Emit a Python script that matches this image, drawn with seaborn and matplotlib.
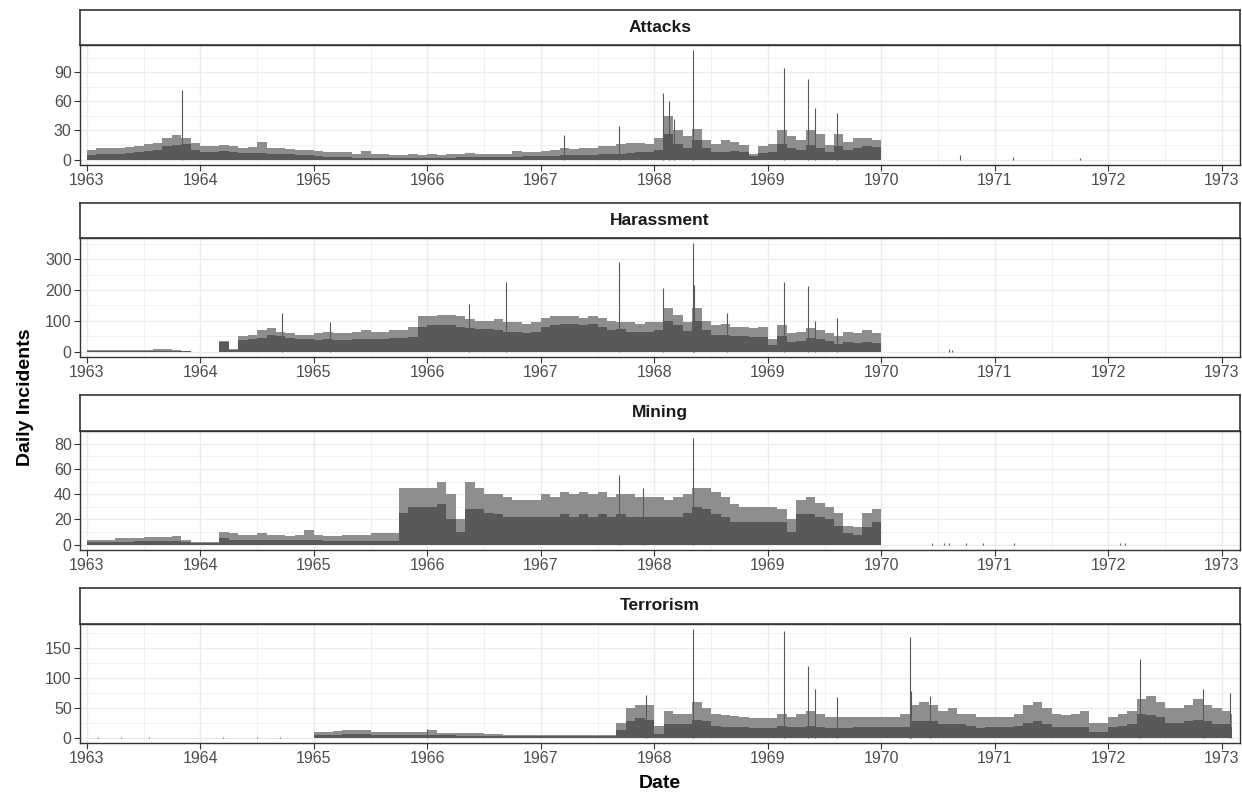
import numpy as np
import pandas as pd
import matplotlib
matplotlib.use("Agg")
import matplotlib.pyplot as plt
import seaborn as sns

# ---------------- data ----------------
categories = ["Attacks", "Harassment", "Mining", "Terrorism"]
start_year = 1963
years = list(range(1963, 1974))
series_end = {"Attacks": 1970.0, "Harassment": 1970.0, "Mining": 1970.0,
              "Terrorism": 1973.09}

# monthly typical daily level (dark mass), Jan 1963 onward
attacks_level = [5, 6, 6, 6, 7, 8, 9, 10, 14, 15, 16, 10,
                 8, 8, 9, 8, 7, 7, 7, 6, 6, 6, 5, 5,
                 4, 3, 3, 3, 2, 2, 2, 2, 2, 2, 2, 2,
                 2, 2, 2, 3, 3, 3, 3, 3, 3, 3, 4, 4,
                 4, 4, 5, 5, 5, 5, 6, 6, 6, 7, 8, 8,
                 10, 26, 16, 12, 20, 12, 8, 8, 9, 8, 4, 7,
                 8, 16, 12, 10, 15, 12, 8, 14, 10, 12, 14, 13]
attacks_peak = [10, 12, 12, 12, 13, 14, 16, 17, 22, 25, 22, 17,
                14, 14, 15, 14, 12, 13, 18, 12, 12, 11, 10, 10,
                9, 8, 8, 8, 6, 9, 6, 6, 5, 5, 6, 5,
                6, 5, 6, 6, 7, 6, 6, 6, 6, 9, 8, 8,
                9, 10, 12, 11, 12, 12, 14, 14, 16, 17, 17, 16,
                22, 45, 30, 24, 32, 20, 16, 20, 18, 15, 6, 14,
                16, 30, 24, 20, 30, 26, 15, 26, 18, 22, 22, 20]
attacks_spike_dates = [1963.84, 1967.20, 1967.69, 1968.08, 1968.13, 1968.17, 1968.34,
                       1969.14, 1969.35, 1969.42, 1969.61, 1970.69, 1971.16, 1971.75]
attacks_spike_values = [72, 25, 35, 69, 60, 42, 112.6, 94, 83, 53, 48, 5, 3, 2]

harassment_level = [2, 2, 2, 2, 2, 2, 3, 3, 3, 3, 1, 0,
                    0, 0, 30, 5, 38, 40, 45, 55, 50, 45, 40, 40,
                    38, 40, 38, 38, 40, 40, 42, 42, 45, 45, 48, 80,
                    85, 85, 85, 80, 75, 72, 72, 70, 65, 62, 60, 62,
                    80, 85, 88, 88, 85, 88, 80, 70, 72, 65, 62, 65,
                    70, 100, 85, 68, 100, 70, 55, 55, 52, 50, 48, 48,
                    22, 50, 32, 35, 45, 40, 35, 25, 30, 28, 30, 28]
harassment_peak = [4, 4, 5, 4, 5, 5, 6, 7, 7, 6, 2, 0,
                   0, 0, 35, 10, 50, 55, 70, 75, 65, 60, 55, 55,
                   60, 65, 60, 60, 65, 70, 65, 65, 70, 70, 80, 115,
                   115, 120, 120, 115, 105, 100, 100, 105, 95, 95, 90, 95,
                   110, 115, 115, 115, 110, 115, 110, 100, 95, 95, 90, 95,
                   95, 140, 120, 95, 140, 100, 85, 90, 80, 80, 75, 80,
                   40, 85, 60, 65, 75, 70, 60, 50, 65, 60, 70, 60]
harassment_spike_dates = [1964.72, 1965.14, 1966.37, 1966.69, 1967.69, 1968.08,
                          1968.34, 1968.35, 1968.64, 1969.14, 1969.35, 1969.42,
                          1969.61, 1970.60, 1970.62]
harassment_spike_values = [125, 95, 155, 225, 290, 205, 351, 215, 125, 225, 212, 100,
                           110, 8, 6]

mining_level = [2, 2, 2, 2, 2, 3, 3, 3, 3, 3, 2, 1,
                1, 1, 5, 4, 4, 4, 4, 4, 4, 4, 4, 4,
                4, 3, 3, 3, 3, 3, 3, 3, 3, 25, 30, 30,
                30, 32, 20, 10, 28, 28, 25, 24, 22, 22, 22, 22,
                22, 22, 24, 22, 24, 22, 24, 22, 24, 22, 22, 22,
                22, 22, 22, 25, 30, 28, 24, 22, 18, 18, 18, 18,
                18, 18, 10, 24, 24, 22, 20, 15, 9, 8, 14, 18]
mining_peak = [4, 4, 4, 5, 5, 5, 6, 6, 6, 7, 4, 2,
               2, 2, 10, 9, 8, 8, 9, 8, 8, 7, 8, 12,
               8, 7, 7, 8, 8, 8, 9, 9, 9, 45, 45, 45,
               45, 50, 40, 20, 50, 45, 40, 40, 38, 35, 35, 35,
               40, 38, 42, 40, 42, 40, 42, 38, 40, 40, 38, 38,
               38, 35, 38, 40, 45, 45, 42, 38, 32, 30, 30, 30,
               30, 28, 20, 35, 38, 33, 30, 25, 15, 14, 25, 28]
mining_spike_dates = [1967.69, 1967.90, 1968.34, 1970.45, 1970.55, 1970.60,
                      1970.75, 1970.90, 1971.17, 1972.10, 1972.15]
mining_spike_values = [55, 45, 84.5, 1, 1.5, 1.5, 1, 1, 1.5, 1, 1]

terrorism_level = [0, 0, 0, 0, 0, 0, 0, 0, 0, 0, 0, 0,
                   0, 0, 0, 0, 0, 0, 0, 0, 0, 0, 0, 0,
                   5, 5, 5, 6, 6, 6, 5, 5, 5, 5, 5, 5,
                   5, 4, 4, 3, 3, 3, 3, 3, 2, 2, 2, 2,
                   2, 2, 2, 2, 2, 2, 2, 2, 12, 28, 32, 30,
                   6, 22, 22, 22, 30, 28, 20, 18, 18, 18, 16, 16,
                   16, 20, 18, 18, 20, 18, 16, 16, 16, 18, 18, 18,
                   18, 18, 18, 28, 28, 28, 22, 22, 22, 20, 16, 18,
                   18, 18, 20, 25, 28, 22, 18, 18, 18, 18, 10, 10,
                   18, 20, 22, 40, 38, 35, 25, 25, 28, 30, 28, 22,
                   22, 18]
terrorism_peak = [0, 0, 0, 0, 0, 0, 0, 0, 0, 0, 0, 0,
                  0, 0, 0, 0, 0, 0, 0, 0, 0, 0, 0, 0,
                  10, 10, 11, 12, 12, 12, 10, 10, 10, 10, 10, 10,
                  12, 8, 8, 7, 7, 7, 6, 6, 5, 5, 5, 5,
                  4, 4, 4, 4, 4, 4, 4, 4, 25, 50, 55, 55,
                  20, 45, 40, 40, 60, 50, 40, 38, 36, 35, 32, 32,
                  32, 40, 35, 40, 45, 40, 35, 34, 35, 35, 35, 35,
                  35, 35, 40, 55, 60, 55, 45, 50, 40, 40, 35, 35,
                  35, 35, 40, 55, 60, 50, 40, 38, 40, 45, 25, 25,
                  35, 40, 45, 65, 70, 60, 50, 50, 55, 65, 55, 50,
                  45, 40]
terrorism_spike_dates = [1963.10, 1963.30, 1963.55, 1964.20, 1964.50, 1964.70,
                         1966.00, 1967.93, 1968.34, 1969.14, 1969.35, 1969.42,
                         1969.61, 1970.25, 1970.26, 1970.43, 1972.28, 1972.83, 1973.07]
terrorism_spike_values = [1, 1, 1, 1, 1, 1.5, 15, 72, 181, 178, 120, 82, 68, 168, 78,
                          70, 132, 82, 75]

levels = {"Attacks": attacks_level, "Harassment": harassment_level,
          "Mining": mining_level, "Terrorism": terrorism_level}
peaks = {"Attacks": attacks_peak, "Harassment": harassment_peak,
         "Mining": mining_peak, "Terrorism": terrorism_peak}
spikes = {"Attacks": (attacks_spike_dates, attacks_spike_values),
          "Harassment": (harassment_spike_dates, harassment_spike_values),
          "Mining": (mining_spike_dates, mining_spike_values),
          "Terrorism": (terrorism_spike_dates, terrorism_spike_values)}

rows = []
for c in categories:
    for i, (lv, pk) in enumerate(zip(levels[c], peaks[c])):
        t = start_year + i / 12.0
        w = min(1 / 12.0, series_end[c] - t)
        rows.append({"type": c, "t": t, "w": w, "level": lv, "peak": pk})
df = pd.DataFrame(rows)

# ---------------- style ----------------
sns.set_theme(style="white")
plt.rcParams["font.family"] = ["Liberation Sans", "DejaVu Sans"]

DARK = "#595959"
FRINGE = "#8e8e8e"
GRID = "#ebebeb"
BORDER = "#333333"

g = sns.FacetGrid(df, row="type", row_order=categories, sharex=False, sharey=False,
                  height=2.0, aspect=6.2, despine=False)


def draw_bars(data, **kws):
    ax = plt.gca()
    ax.bar(data["t"], data["peak"], width=data["w"], align="edge", color=FRINGE,
           linewidth=0, zorder=2)
    ax.bar(data["t"], data["level"], width=data["w"], align="edge", color=DARK,
           linewidth=0, zorder=3)


g.map_dataframe(draw_bars)
g.set_titles("")
g.set_axis_labels("", "")

fig = g.figure
fig.set_size_inches(12.42, 7.94)
W, H = 1242.0, 794.0

layout = {  # strip top, axes top, axes bottom (pixels from top)
    "Attacks": (10, 45, 165),
    "Harassment": (203, 238, 357),
    "Mining": (395, 431, 550),
    "Terrorism": (588, 624, 743),
}
left_px, right_px = 80, 1240

yticks = {"Attacks": [0, 30, 60, 90], "Harassment": [0, 100, 200, 300],
          "Mining": [0, 20, 40, 60, 80], "Terrorism": [0, 50, 100, 150]}

for c in categories:
    ax = g.axes_dict[c]
    st, at, ab = layout[c]
    ax.set_position([left_px / W, 1 - ab / H, (right_px - left_px) / W, (ab - at) / H])

    sd, sv = spikes[c]
    ax.vlines(sd, 0, sv, color=DARK, linewidth=0.8, zorder=4)

    mx = max(max(peaks[c]), max(sv))
    ax.set_ylim(-0.05 * mx, 1.05 * mx)
    ax.set_xlim(1962.94, 1973.16)

    ax.set_xticks(years)
    ax.set_xticklabels([str(y) for y in years])
    ax.set_xticks([y + 0.5 for y in years[:-1]], minor=True)
    yt = yticks[c]
    ax.set_yticks(yt)
    ax.set_yticks([v + (yt[1] - yt[0]) / 2 for v in yt], minor=True)

    ax.grid(True, which="major", color=GRID, linewidth=1.0, zorder=0)
    ax.grid(True, which="minor", color=GRID, linewidth=0.5, zorder=0)
    ax.set_axisbelow(True)
    ax.set_facecolor("white")

    ax.tick_params(axis="both", which="major", direction="out", length=4, width=0.8,
                   color=BORDER, labelcolor="#4d4d4d", labelsize=11.5, pad=2,
                   bottom=True, left=True)
    ax.tick_params(axis="both", which="minor", length=0)
    for sp in ax.spines.values():
        sp.set_visible(True)
        sp.set_color(BORDER)
        sp.set_linewidth(1.0)

    # strip
    sax = fig.add_axes([left_px / W, 1 - at / H, (right_px - left_px) / W, (at - st) / H])
    sax.set_xticks([])
    sax.set_yticks([])
    sax.set_facecolor("white")
    for sp in sax.spines.values():
        sp.set_visible(True)
        sp.set_color(BORDER)
        sp.set_linewidth(1.2)
    sax.text(0.5, 0.5, c, transform=sax.transAxes, ha="center", va="center",
             fontsize=12.5, fontweight="bold", color="#1a1a1a")

fig.text(25 / W, 1 - 397 / H, "Daily Incidents", rotation=90, ha="center", va="center",
         fontsize=14, fontweight="bold", color="black")
fig.text(660 / W, 1 - 784 / H, "Date", ha="center", va="center",
         fontsize=14, fontweight="bold", color="black")

fig.savefig("out.png", dpi=100, facecolor="white")
